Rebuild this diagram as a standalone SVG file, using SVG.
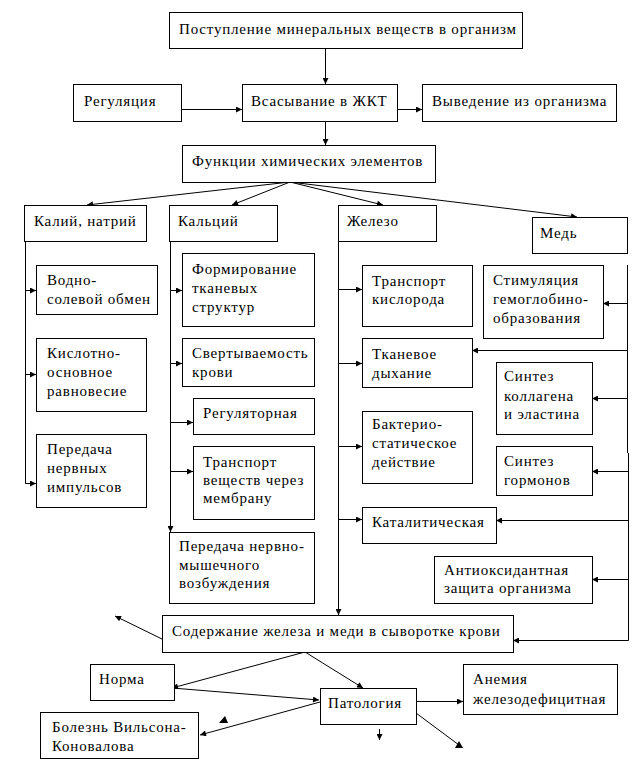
<svg xmlns="http://www.w3.org/2000/svg" width="641" height="761" viewBox="0 0 641 761">
<style>
rect{fill:#fff;stroke:#000;stroke-width:1}
text{font-family:'Liberation Serif','DejaVu Serif',serif;font-size:15px;fill:#000;letter-spacing:0.8px}
.c line,.c polyline{stroke:#000;stroke-width:1;fill:none}
.h{fill:#000;stroke:none}
</style>
<defs>
<marker id="a" viewBox="0 0 10 10" refX="10" refY="5" markerWidth="8" markerHeight="6" orient="auto" markerUnits="userSpaceOnUse"><path d="M0,0 L10,5 L0,10 z" fill="#000"/></marker>
</defs>
<rect x="0" y="0" width="641" height="761" style="fill:#fff;stroke:none"/>
<g class="c" id="connectors">
<line x1="325.5" y1="48" x2="325.5" y2="84" marker-end="url(#a)"/>
<line x1="181" y1="109.5" x2="242" y2="109.5" marker-end="url(#a)"/>
<line x1="397" y1="109.5" x2="422" y2="109.5" marker-end="url(#a)"/>
<line x1="325.5" y1="121" x2="325.5" y2="145" marker-end="url(#a)"/>
<line x1="290" y1="182" x2="87" y2="205" marker-end="url(#a)"/>
<line x1="290" y1="182" x2="232" y2="205" marker-end="url(#a)"/>
<line x1="290" y1="182" x2="383" y2="205" marker-end="url(#a)"/>
<line x1="290" y1="182" x2="577" y2="217" marker-end="url(#a)"/>
<polyline points="25.5,241 25.5,483.5 36,483.5" marker-end="url(#a)"/>
<line x1="25" y1="290.5" x2="36" y2="290.5" marker-end="url(#a)"/>
<line x1="25" y1="374.5" x2="36" y2="374.5" marker-end="url(#a)"/>
<line x1="170.5" y1="241" x2="170.5" y2="532" marker-end="url(#a)"/>
<line x1="170" y1="290.5" x2="182" y2="290.5" marker-end="url(#a)"/>
<line x1="170" y1="363.5" x2="182" y2="363.5" marker-end="url(#a)"/>
<line x1="170" y1="422.5" x2="193" y2="422.5" marker-end="url(#a)"/>
<line x1="170" y1="471.5" x2="193" y2="471.5" marker-end="url(#a)"/>
<line x1="338.5" y1="241" x2="338.5" y2="615" marker-end="url(#a)"/>
<line x1="338" y1="289.5" x2="362" y2="289.5" marker-end="url(#a)"/>
<line x1="338" y1="363.5" x2="362" y2="363.5" marker-end="url(#a)"/>
<line x1="338" y1="446.5" x2="362" y2="446.5" marker-end="url(#a)"/>
<line x1="338" y1="519.5" x2="362" y2="519.5" marker-end="url(#a)"/>
<line x1="627.5" y1="265" x2="627.5" y2="453"/>
<polyline points="628.5,453 628.5,640.5 513,640.5" marker-end="url(#a)"/>
<line x1="628" y1="303.5" x2="603" y2="303.5" marker-end="url(#a)"/>
<line x1="628" y1="350.5" x2="472" y2="350.5" marker-end="url(#a)"/>
<line x1="628" y1="398.5" x2="592" y2="398.5" marker-end="url(#a)"/>
<line x1="628" y1="471.5" x2="592" y2="471.5" marker-end="url(#a)"/>
<line x1="628" y1="520.5" x2="496" y2="520.5" marker-end="url(#a)"/>
<line x1="628" y1="579.5" x2="592" y2="579.5" marker-end="url(#a)"/>
<line x1="170" y1="627.5" x2="163" y2="627.5" marker-end="url(#a)"/>
<line x1="162" y1="639" x2="115" y2="616" marker-end="url(#a)"/>
<line x1="305" y1="652" x2="172" y2="688" marker-end="url(#a)"/>
<line x1="305" y1="652" x2="363" y2="688" marker-end="url(#a)"/>
<line x1="172" y1="688" x2="319" y2="700" stroke-width="1.5" marker-end="url(#a)"/>
<line x1="320" y1="702" x2="200" y2="735" marker-end="url(#a)"/>
<line x1="416" y1="701.5" x2="463" y2="701.5" marker-end="url(#a)"/>
<line x1="379.5" y1="729" x2="379.5" y2="740" marker-end="url(#a)"/>
<line x1="416" y1="713" x2="459" y2="745"/>
<polygon class="h" points="459,741 463,748 455,748"/>
<polygon class="h" points="225,716 228,723 219,723"/>
</g>
<g id="n_intake"><rect x="169.5" y="12.5" width="353" height="36"/><text x="179" y="34">Поступление минеральных веществ в организм</text></g>
<g id="n_reg"><rect x="73.5" y="84.5" width="108" height="37"/><text x="84" y="106">Регуляция</text></g>
<g id="n_absorb"><rect x="242.5" y="84.5" width="155" height="37"/><text x="251" y="106">Всасывание в ЖКТ</text></g>
<g id="n_excr"><rect x="422.5" y="84.5" width="194" height="37"/><text x="432" y="106">Выведение из организма</text></g>
<g id="n_func"><rect x="182.5" y="145.5" width="253" height="37"/><text x="192" y="166">Функции химических элементов</text></g>
<g id="n_kna"><rect x="24.5" y="205.5" width="122" height="36"/><text x="34" y="226">Калий, натрий</text></g>
<g id="n_ca"><rect x="169.5" y="205.5" width="108" height="36"/><text x="178" y="226">Кальций</text></g>
<g id="n_fe"><rect x="338.5" y="205.5" width="98" height="36"/><text x="347" y="226">Железо</text></g>
<g id="n_cu"><rect x="532.5" y="217.5" width="95" height="36"/><text x="540" y="238">Медь</text></g>
<g id="n_water"><rect x="36.5" y="265.5" width="121" height="49"/><text x="47" y="285">Водно-</text><text x="47" y="304">солевой обмен</text></g>
<g id="n_acid"><rect x="36.5" y="338.5" width="110" height="73"/><text x="47" y="358">Кислотно-</text><text x="47" y="377">основное</text><text x="47" y="396">равновесие</text></g>
<g id="n_nerve"><rect x="36.5" y="434.5" width="110" height="73"/><text x="47" y="454">Передача</text><text x="47" y="473">нервных</text><text x="47" y="492">импульсов</text></g>
<g id="n_tissue"><rect x="182.5" y="253.5" width="132" height="73"/><text x="192" y="274">Формирование</text><text x="192" y="293">тканевых</text><text x="192" y="312">структур</text></g>
<g id="n_clot"><rect x="182.5" y="338.5" width="132" height="48"/><text x="192" y="358">Свертываемость</text><text x="192" y="377">крови</text></g>
<g id="n_regul"><rect x="193.5" y="398.5" width="121" height="36"/><text x="203" y="418">Регуляторная</text></g>
<g id="n_transp"><rect x="193.5" y="446.5" width="121" height="73"/><text x="203" y="467">Транспорт</text><text x="203" y="485">веществ через</text><text x="203" y="503">мембрану</text></g>
<g id="n_neuromusc"><rect x="169.5" y="532.5" width="145" height="71"/><text x="179" y="551">Передача нервно-</text><text x="179" y="570">мышечного</text><text x="179" y="588">возбуждения</text></g>
<g id="n_oxygen"><rect x="362.5" y="265.5" width="110" height="61"/><text x="372" y="286">Транспорт</text><text x="372" y="304">кислорода</text></g>
<g id="n_resp"><rect x="362.5" y="338.5" width="110" height="49"/><text x="372" y="359">Тканевое</text><text x="372" y="378">дыхание</text></g>
<g id="n_bact"><rect x="362.5" y="411.5" width="110" height="72"/><text x="372" y="429">Бактерио-</text><text x="372" y="448">статическое</text><text x="372" y="467">действие</text></g>
<g id="n_catal"><rect x="362.5" y="507.5" width="134" height="36"/><text x="372" y="527">Каталитическая</text></g>
<g id="n_hemo"><rect x="483.5" y="265.5" width="120" height="73"/><text x="493" y="285">Стимуляция</text><text x="493" y="304">гемоглобино-</text><text x="493" y="323">образования</text></g>
<g id="n_collagen"><rect x="496.5" y="362.5" width="96" height="72"/><text x="504" y="381">Синтез</text><text x="504" y="401">коллагена</text><text x="504" y="419">и эластина</text></g>
<g id="n_horm"><rect x="496.5" y="446.5" width="96" height="49"/><text x="504" y="466">Синтез</text><text x="504" y="485">гормонов</text></g>
<g id="n_antiox"><rect x="434.5" y="556.5" width="158" height="47"/><text x="444" y="575">Антиоксидантная</text><text x="444" y="593">защита организма</text></g>
<g id="n_serum"><rect x="162.5" y="615.5" width="351" height="37"/><text x="172" y="636">Содержание железа и меди в сыворотке крови</text></g>
<g id="n_norm"><rect x="90.5" y="664.5" width="84" height="36"/><text x="99" y="684">Норма</text></g>
<g id="n_path"><rect x="320.5" y="688.5" width="96" height="36"/><text x="328" y="708">Патология</text></g>
<g id="n_anemia"><rect x="463.5" y="664.5" width="154" height="50"/><text x="473" y="684">Анемия</text><text x="473" y="704">железодефицитная</text></g>
<g id="n_wilson"><rect x="40.5" y="712.5" width="158" height="46"/><text x="52" y="732">Болезнь Вильсона-</text><text x="52" y="751">Коновалова</text></g>
</svg>
